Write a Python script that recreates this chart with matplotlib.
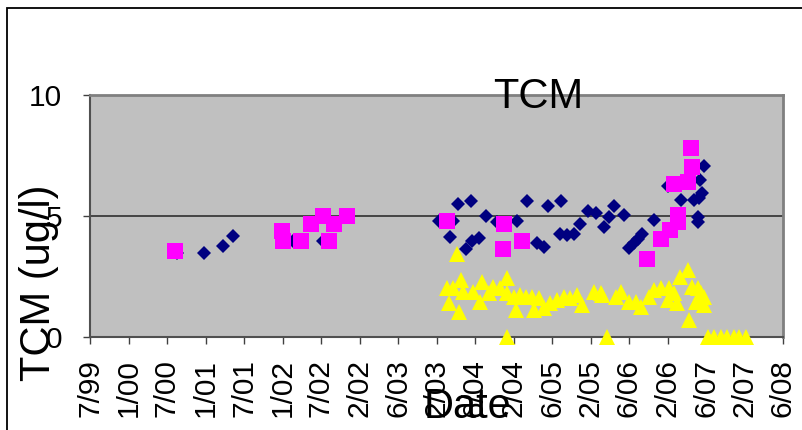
import matplotlib
matplotlib.use("Agg")
import matplotlib.pyplot as plt
from matplotlib.patches import Rectangle

plt.rcParams['font.family'] = ['Liberation Sans', 'DejaVu Sans']

# x values are decimal years, y values are TCM in ug/l
navy_x = [2000.63, 2000.98, 2001.23, 2001.36, 2002.13, 2002.52,
          2004.03, 2004.22, 2004.28, 2004.45, 2004.17, 2004.38, 2004.46,
          2004.55, 2004.64, 2004.78, 2005.05, 2005.18, 2005.30, 2005.39,
          2005.45, 2005.62, 2005.60, 2005.70, 2005.79, 2005.87, 2005.97,
          2006.07, 2006.17, 2006.24, 2006.30, 2006.43, 2006.50, 2006.57,
          2006.62, 2006.67, 2006.83, 2007.00, 2007.17, 2007.35, 2007.39,
          2007.39, 2007.41, 2007.45, 2007.42, 2007.48]
navy_y = [3.47, 3.48, 3.77, 4.19, 3.97, 3.97,
          4.81, 4.81, 5.50, 5.62, 4.12, 3.62, 3.97,
          4.08, 5.00, 4.76, 4.81, 5.63, 3.87, 3.73,
          5.41, 5.63, 4.24, 4.21, 4.24, 4.67, 5.21,
          5.14, 4.53, 4.95, 5.41, 5.04, 3.67, 3.87,
          4.04, 4.26, 4.83, 6.24, 5.66, 5.66, 4.76,
          4.97, 5.73, 5.94, 6.49, 7.07]

pink_x = [2000.61, 2001.99, 2002.01, 2002.24, 2002.37, 2002.53, 2002.60,
          2002.67, 2002.84, 2004.14, 2004.88, 2004.87, 2005.11, 2006.73,
          2006.92, 2007.03, 2007.13, 2007.13, 2007.09, 2007.27, 2007.32,
          2007.30]
pink_y = [3.57, 4.38, 3.97, 3.97, 4.67, 5.00, 3.97,
          4.67, 5.00, 4.81, 4.67, 3.64, 3.97, 3.22,
          4.05, 4.42, 4.76, 5.04, 6.31, 6.42, 7.04,
          7.80]

yellow_x = [2004.27, 2004.13, 2004.32, 2004.22, 2004.16, 2004.29, 2004.35,
            2004.48, 2004.59, 2004.57, 2004.68, 2004.74, 2004.83, 2004.91,
            2004.92, 2005.00, 2005.03, 2005.09, 2005.16, 2005.24, 2005.33,
            2005.26, 2005.39, 2005.48, 2005.57, 2005.65, 2005.74, 2005.83,
            2005.89, 2006.05, 2006.13, 2006.33, 2004.91, 2006.21, 2006.15,
            2006.40, 2006.50, 2006.59, 2006.65, 2006.76, 2006.83, 2006.91,
            2007.02, 2007.00, 2007.09, 2007.12, 2007.16, 2007.27, 2007.32,
            2007.39, 2007.43, 2007.48, 2007.37, 2007.48, 2007.28,
            2007.52, 2007.61, 2007.69, 2007.77, 2007.86, 2007.93, 2008.02]
yellow_y = [3.43, 2.01, 2.36, 2.01, 1.39, 1.05, 1.87,
            1.87, 2.29, 1.46, 1.81, 2.08, 2.01, 2.43,
            1.81, 1.67, 1.12, 1.74, 1.67, 1.67, 1.60,
            1.12, 1.19, 1.39, 1.53, 1.67, 1.60, 1.74,
            1.32, 1.87, 1.81, 1.67, 0.0, 0.0, 1.74,
            1.87, 1.46, 1.46, 1.25, 1.67, 1.94, 2.01,
            2.01, 1.53, 1.81, 1.39, 2.49, 2.77, 2.08,
            2.01, 1.81, 1.67, 1.46, 1.32, 0.70,
            0.0, 0.0, 0.0, 0.0, 0.0, 0.0, 0.0]

tick_pos = [1999.5 + 0.5 * i for i in range(19)]
tick_labels = ["7/99", "1/00", "7/00", "1/01", "7/01", "1/02", "7/02",
               "2/02", "6/03", "2/03", "6/04", "2/04", "6/05", "2/05",
               "6/06", "2/06", "6/07", "2/07", "6/08"]

fig = plt.figure(figsize=(8.02, 4.30), dpi=100)
ax = fig.add_axes([90/802, 1 - 337/430, (783-90)/802, (337-95)/430])
ax.set_facecolor('#C0C0C0')

ax.plot(navy_x, navy_y, 'D', color='#000080', ms=7.6, mew=0, clip_on=False, zorder=3)
ax.plot(pink_x, pink_y, 's', color='#FF00FF', ms=11, mew=0, clip_on=False, zorder=4)
ax.plot(yellow_x, yellow_y, '^', color='#FFFF00', ms=12, mew=0, clip_on=False, zorder=5)

ax.set_xlim(1999.5, 2008.5)
ax.set_ylim(0, 10)
ax.set_yticks([0, 5, 10])
ax.set_xticks(tick_pos)
ax.set_xticklabels(tick_labels, rotation=90, fontsize=21.5)
ax.tick_params(axis='y', labelsize=21.5, length=5, width=1, color='#404040', pad=15)
ax.tick_params(axis='x', length=5, width=1, color='#404040', pad=11)
ax.axhline(5, color='#3a3a3a', lw=1.3, zorder=2)

for s in ['top', 'right']:
    ax.spines[s].set_color('#808080')
    ax.spines[s].set_linewidth(2)
for s in ['left', 'bottom']:
    ax.spines[s].set_color('#505050')
    ax.spines[s].set_linewidth(1.5)

fig.text(538/802, 1 - 97/430, "TCM", fontsize=30, ha='center', va='center')
fig.text(39/802, 1 - 283/430, "TCM (ug/l)", fontsize=30, rotation=90,
         ha='center', va='center')
fig.text(468/802, 1 - 418/430, "Date", fontsize=30, ha='center', va='baseline')

fig.add_artist(Rectangle((7/802, -0.5), 2.0, (1 - 8/430) + 0.5,
                         transform=fig.transFigure, fill=False,
                         edgecolor='black', lw=1.3))

fig.savefig("out.png", dpi=100)
